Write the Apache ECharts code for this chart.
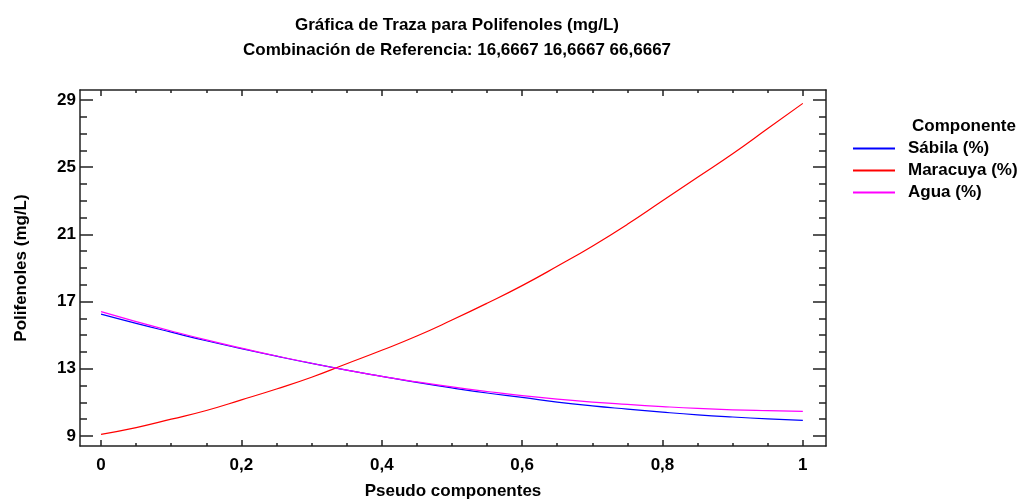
<!DOCTYPE html>
<html>
<head>
<meta charset="utf-8">
<script src="https://cdn.jsdelivr.net/npm/echarts@6/dist/echarts.min.js"></script>
<style>html,body{margin:0;padding:0;background:#fff}#c{width:1022px;height:500px}</style>
</head>
<body>
<div id="c"></div>
<script>
const xs = [0,0.05,0.1,0.15,0.2,0.25,0.3,0.35,0.4,0.45,0.5,0.55,0.6,0.65,0.7,0.75,0.8,0.85,0.9,0.95,1];
const sabila   = [16.25,15.70,15.18,14.67,14.20,13.75,13.32,12.92,12.55,12.19,11.86,11.56,11.30,11.02,10.79,10.60,10.42,10.26,10.13,10.02,9.93];
const maracuya = [9.10,9.50,10.00,10.52,11.15,11.80,12.50,13.30,14.10,14.95,15.90,16.90,17.95,19.10,20.30,21.60,23.00,24.40,25.80,27.30,28.80];
const agua     = [16.40,15.81,15.25,14.72,14.23,13.76,13.33,12.92,12.55,12.22,11.92,11.65,11.40,11.19,11.02,10.88,10.75,10.64,10.56,10.51,10.47];
const xMajor = [0,0.2,0.4,0.6,0.8,1];
const xMinor = [0.05,0.1,0.15,0.25,0.3,0.35,0.45,0.5,0.55,0.65,0.7,0.75,0.85,0.9,0.95];
const yMajor = [9,13,17,21,25,29];
const yMinor = [10,11,12,14,15,16,18,19,20,22,23,24,26,27,28];
const names = ['Sábila (%)','Maracuya (%)','Agua (%)'];
const colors = ['#0000ff','#ff0000','#ff00ff'];

const FONT = '"Liberation Sans", Arial, sans-serif';
const AX = '#222';
const fmt = v => (Math.round(v*10)/10).toString().replace('.', ',');

function xAx(pos, vals, len, labels, line) {
  return {
    type: 'value', position: pos, min: -0.03, max: 1.033,
    axisLine: {show: line, onZero: false, lineStyle: {color: AX, width: 1.5}},
    axisTick: {show: true, inside: true, length: len, customValues: vals, lineStyle: {color: AX, width: 1.5}},
    axisLabel: labels ? {show: true, customValues: vals, formatter: fmt, color: '#000', fontFamily: FONT, fontWeight: 'bold', fontSize: 17, margin: 11} : {show: false},
    splitLine: {show: false},
    name: labels ? 'Pseudo componentes' : '',
    nameLocation: 'middle', nameGap: 37,
    nameTextStyle: {color: '#000', fontFamily: FONT, fontWeight: 'bold', fontSize: 17}
  };
}
function yAx(pos, vals, len, labels, line) {
  return {
    type: 'value', position: pos, min: 8.404, max: 29.596,
    axisLine: {show: line, onZero: false, lineStyle: {color: AX, width: 1.5}},
    axisTick: {show: true, inside: true, length: len, customValues: vals, lineStyle: {color: AX, width: 1.5}},
    axisLabel: labels ? {show: true, customValues: vals, formatter: v => String(v), color: '#000', fontFamily: FONT, fontWeight: 'bold', fontSize: 17, margin: 4} : {show: false},
    splitLine: {show: false},
    name: labels ? 'Polifenoles (mg/L)' : '',
    nameLocation: 'middle', nameGap: 50, nameRotate: 90,
    nameTextStyle: {color: '#000', fontFamily: FONT, fontWeight: 'bold', fontSize: 17}
  };
}

const chart = echarts.init(document.getElementById('c'), null, {renderer: 'canvas'});
chart.setOption({
  animation: false,
  backgroundColor: '#fff',
  title: [
    {text: 'Gráfica de Traza para Polifenoles (mg/L)\nCombinación de Referencia: 16,6667 16,6667 66,6667',
     left: 452, top: 8, textAlign: 'center',
     textStyle: {color: '#000', fontFamily: FONT, fontWeight: 'bold', fontSize: 17, lineHeight: 25}},
    {text: 'Componente', left: 907, top: 113,
     textStyle: {color: '#000', fontFamily: FONT, fontWeight: 'bold', fontSize: 17}}
  ],
  legend: {
    orient: 'vertical', left: 853, top: 140, padding: 0,
    itemWidth: 42, itemHeight: 2, itemGap: 5, icon: 'rect',
    data: names,
    textStyle: {color: '#000', fontFamily: FONT, fontWeight: 'bold', fontSize: 17, padding: [0,0,0,8]}
  },
  grid: {left: 80, right: 196, top: 90, bottom: 54, containLabel: false, outerBoundsMode: 'none'},
  xAxis: [
    xAx('bottom', xMajor, 6, true, true),
    xAx('bottom', xMinor, 3, false, false),
    xAx('top', xMajor, 6, false, true),
    xAx('top', xMinor, 3, false, false)
  ],
  yAxis: [
    yAx('left', yMajor, 13, true, true),
    yAx('left', yMinor, 7, false, false),
    yAx('right', yMajor, 13, false, true),
    yAx('right', yMinor, 7, false, false)
  ],
  series: [sabila, maracuya, agua].map((vals, i) => ({
    name: names[i], type: 'line', xAxisIndex: 0, yAxisIndex: 0,
    data: xs.map((x, j) => [x, vals[j]]),
    smooth: true, symbol: 'none',
    lineStyle: {color: colors[i], width: 1.2},
    itemStyle: {color: colors[i]}
  }))
});
</script>
</body>
</html>
